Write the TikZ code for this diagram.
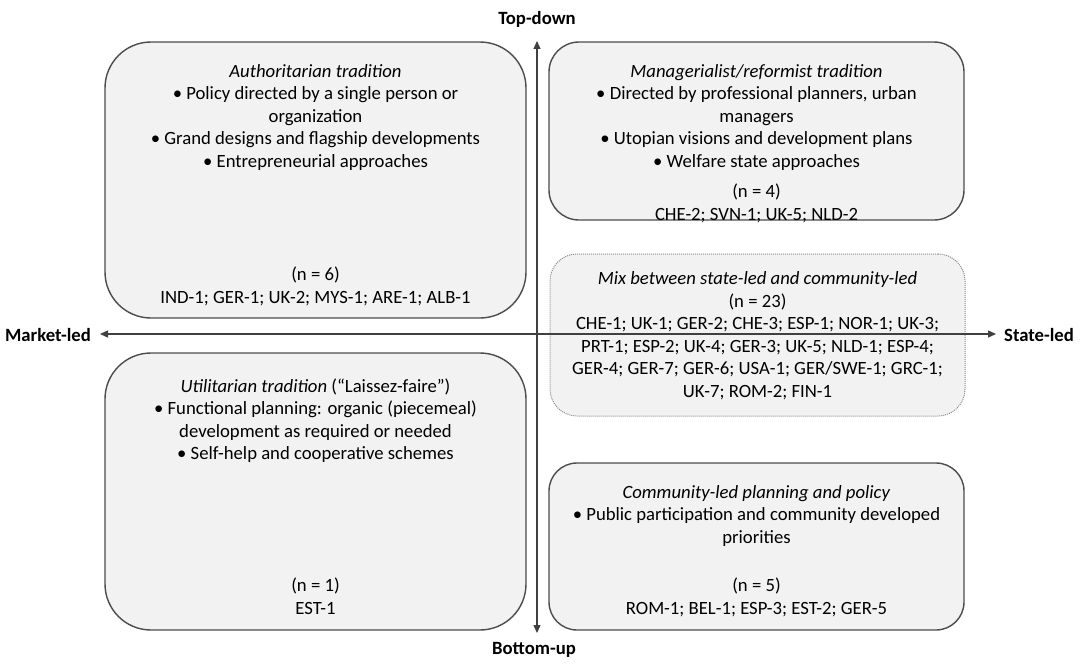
\documentclass[tikz,border=0pt]{standalone}
\usepackage{fontspec}
\setmainfont{Carlito}
\usetikzlibrary{arrows.meta}

\begin{document}
\begin{tikzpicture}[x=1pt, y=-1pt,
        box/.style={draw=black!70, line width=1.4pt, fill=black!5, inner sep=0pt},
        mixbox/.style={draw=black!45, line width=1pt, dash pattern=on 1pt off 1pt, fill=black!5, inner sep=0pt},
        txt/.style={align=center, inner sep=0pt, anchor=north, font=\fontsize{18.7}{22.5}\selectfont},
        axislabel/.style={inner sep=0pt, font=\fontsize{18.7}{22.5}\selectfont\bfseries},
        axis/.style={draw=black!75, line width=1.3pt, {Triangle[length=8pt,width=7pt]}-{Triangle[length=8pt,width=7pt]}}]
        \useasboundingbox (0,0) rectangle (1084,669);

        % quadrant boxes
        \node[box, rounded corners=46pt, minimum width=421pt, minimum height=276pt] (auth) at (315.5,180) {};
        \node[box, rounded corners=30pt, minimum width=415pt, minimum height=178pt] (manag) at (756.5,131) {};
        \node[mixbox, rounded corners=27pt, minimum width=415pt, minimum height=162pt] (mix) at (757.5,335) {};
        \node[box, rounded corners=46pt, minimum width=421pt, minimum height=277pt] (util) at (315.5,491.5) {};
        \node[box, rounded corners=28pt, minimum width=415pt, minimum height=167pt] (comm) at (756.5,546.5) {};

        % box texts
        \node[txt] (auth-title) at ([yshift=-23pt]auth.north) {\textit{Authoritarian tradition}\\
                • Policy directed by a single person or\\ organization\\
                • Grand designs and flagship developments\\
                • Entrepreneurial approaches};
        \node[txt] (auth-n) at ([yshift=52pt]auth.south) {(n = 6)\\ IND-1; GER-1; UK-2; MYS-1; ARE-1; ALB-1};

        \node[txt] (manag-title) at ([yshift=-23pt]manag.north) {\textit{Managerialist/reformist tradition}\\
                • Directed by professional planners, urban\\ managers\\
                • Utopian visions and development plans\\
                • Welfare state approaches};
        \node[txt] (manag-n) at ([yshift=37pt]manag.south) {(n = 4)\\ CHE-2; SVN-1; UK-5; NLD-2};

        \node[txt] (mix-title) at ([yshift=-18pt]mix.north) {\textit{Mix between state-led and community-led}\\
                (n = 23)\\
                CHE-1; UK-1; GER-2; CHE-3; ESP-1; NOR-1; UK-3;\\
                PRT-1; ESP-2; UK-4; GER-3; UK-5; NLD-1; ESP-4;\\
                GER-4; GER-7; GER-6; USA-1; GER/SWE-1; GRC-1;\\
                UK-7; ROM-2; FIN-1};

        \node[txt] (util-title) at ([yshift=-26pt]util.north) {\textit{Utilitarian tradition} (“Laissez-faire”)\\
                • Functional planning: organic (piecemeal)\\ development as required or needed\\
                • Self-help and cooperative schemes};
        \node[txt] (util-n) at ([yshift=53pt]util.south) {(n = 1)\\ EST-1};

        \node[txt] (comm-title) at ([yshift=-23pt]comm.north) {\textit{Community-led planning and policy}\\
                • Public participation and community developed\\ priorities};
        \node[txt] (comm-n) at ([yshift=53pt]comm.south) {(n = 5)\\ ROM-1; BEL-1; ESP-3; EST-2; GER-5};

        % axes
        \node[axislabel] (topdown) at (537,19) {Top-down};
        \node[axislabel] (bottomup) at (534,650) {Bottom-up};
        \node[axislabel] (marketled) at (48,335) {Market-led};
        \node[axislabel] (stateled) at (1039,335) {State-led};
        \coordinate (ytop) at (537,41);
        \coordinate (ybot) at (537,633);
        \coordinate (xleft) at (100,334);
        \coordinate (xright) at (996,334);
        \draw[axis] (ybot) -- (ytop);
        \draw[axis] (xleft) -- (xright);
\end{tikzpicture}
\end{document}
